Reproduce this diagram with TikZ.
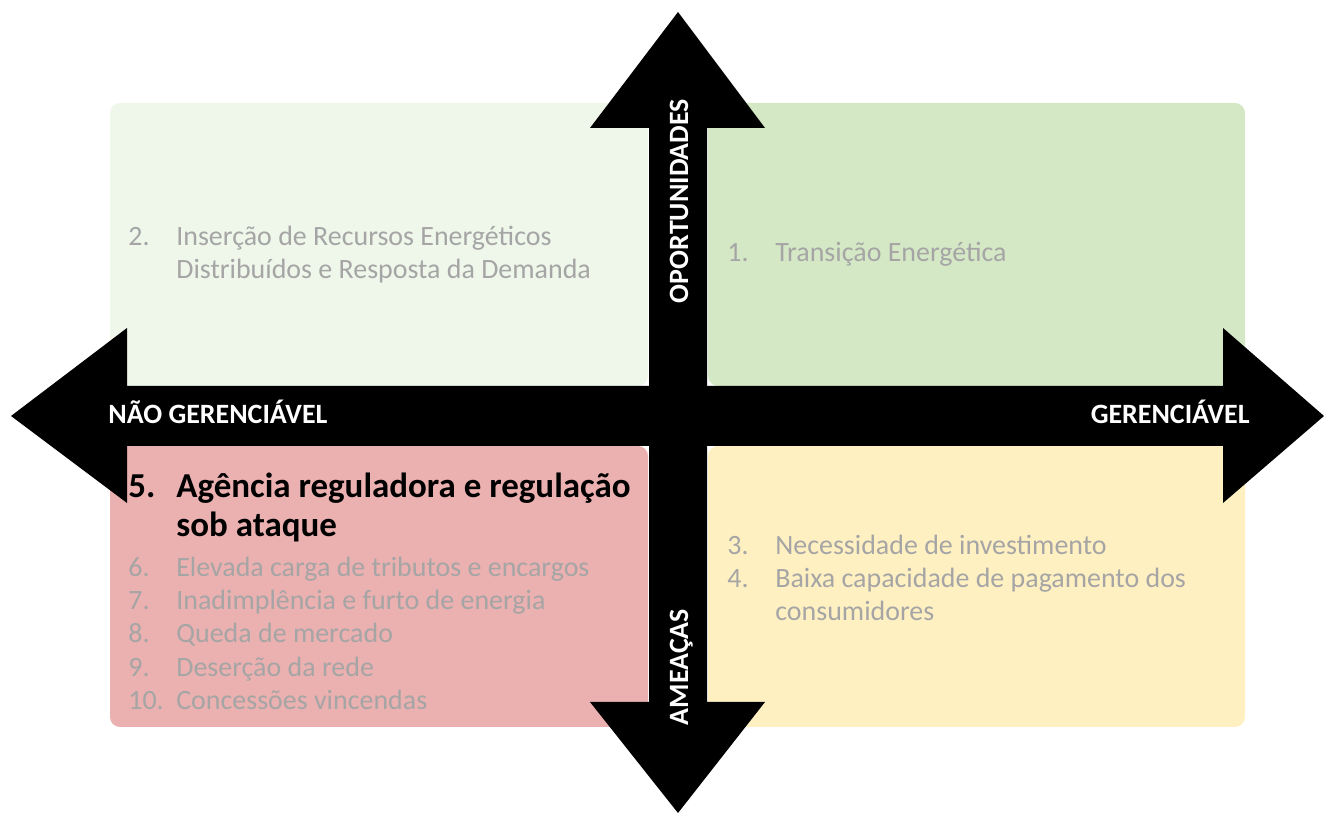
\documentclass[tikz,border=0pt]{standalone}
\usepackage{fontspec}
\setmainfont{Carlito}

\definecolor{quadTL}{HTML}{EFF6EA}
\definecolor{quadTR}{HTML}{D5E8C6}
\definecolor{quadBL}{HTML}{EBB0B0}
\definecolor{quadBR}{HTML}{FFF0C2}
\definecolor{itemgray}{HTML}{A5A5A5}

\tikzset{
	quadbox/.style={shape=rectangle, rounded corners=0.2cm, inner sep=0pt},
	itemtxt/.style={anchor=base west, inner sep=0pt, text=itemgray, font=\fontsize{15.9}{19}\selectfont},
	headtxt/.style={anchor=base west, inner sep=0pt, text=black, font=\fontsize{19.9}{24}\selectfont\bfseries},
	axislbl/.style={inner sep=0pt, text=white, font=\fontsize{15.9}{19}\selectfont\bfseries}
}

\begin{document}
\begin{tikzpicture}
		\useasboundingbox (0, 0) rectangle (26.5, 16.28);
		% Quadrants:
		\node[quadbox, fill=quadTL, minimum width=10.76cm, minimum height=5.66cm] (qtl) at (7.58, 11.39){};
		\node[quadbox, fill=quadTR, minimum width=10.74cm, minimum height=5.66cm] (qtr) at (19.53, 11.39){};
		\node[quadbox, fill=quadBL, minimum width=10.76cm, minimum height=5.62cm] (qbl) at (7.58, 4.55){};
		\node[quadbox, fill=quadBR, minimum width=10.74cm, minimum height=5.62cm] (qbr) at (19.53, 4.55){};
		% Axes:
		\fill (0.22, 7.96) -- (2.54, 9.72) -- (2.54, 8.56) -- (24.46, 8.56) -- (24.46, 9.72) -- (26.48, 7.96) -- (24.46, 6.22) -- (24.46, 7.36) -- (2.54, 7.36) -- (2.54, 6.22) -- cycle;
		\fill (13.56, 16.04) -- (15.30, 13.72) -- (14.14, 13.72) -- (14.14, 2.24) -- (15.30, 2.24) -- (13.56, 0.02) -- (11.80, 2.24) -- (12.98, 2.24) -- (12.98, 13.72) -- (11.80, 13.72) -- cycle;
		\node[axislbl, anchor=base west] (ngr) at (2.16, 7.80){NÃO GERENCIÁVEL};
		\node[axislbl, anchor=base east] (ger) at (25.00, 7.80){GERENCIÁVEL};
		\node[axislbl, anchor=base, rotate=90] (opo) at (13.76, 12.26){OPORTUNIDADES};
		\node[axislbl, anchor=base, rotate=90] (ame) at (13.76, 2.94){AMEAÇAS};
		% Items:
		\node[itemtxt] (n2) at (2.56, 11.36){2.};
		\node[itemtxt] (t2a) at (3.52, 11.36){Inserção de Recursos Energéticos};
		\node[itemtxt] (t2b) at (3.52, 10.70){Distribuídos e Resposta da Demanda};
		\node[itemtxt] (n1) at (14.54, 11.04){1.};
		\node[itemtxt] (t1) at (15.50, 11.04){Transição Energética};
		\node[itemtxt] (n3) at (14.54, 5.18){3.};
		\node[itemtxt] (t3) at (15.50, 5.18){Necessidade de investimento};
		\node[itemtxt] (n4) at (14.54, 4.52){4.};
		\node[itemtxt] (t4a) at (15.50, 4.52){Baixa capacidade de pagamento dos};
		\node[itemtxt] (t4b) at (15.50, 3.86){consumidores};
		\node[headtxt] (n5) at (2.56, 6.32){5.};
		\node[headtxt] (t5a) at (3.52, 6.32){Agência reguladora e regulação};
		\node[headtxt] (t5b) at (3.52, 5.54){sob ataque};
		\node[itemtxt] (n6) at (2.56, 4.74){6.};
		\node[itemtxt] (t6) at (3.52, 4.74){Elevada carga de tributos e encargos};
		\node[itemtxt] (n7) at (2.56, 4.08){7.};
		\node[itemtxt] (t7) at (3.52, 4.08){Inadimplência e furto de energia};
		\node[itemtxt] (n8) at (2.56, 3.42){8.};
		\node[itemtxt] (t8) at (3.52, 3.42){Queda de mercado};
		\node[itemtxt] (n9) at (2.56, 2.74){9.};
		\node[itemtxt] (t9) at (3.52, 2.74){Deserção da rede};
		\node[itemtxt] (n10) at (2.56, 2.08){10.};
		\node[itemtxt] (t10) at (3.52, 2.08){Concessões vincendas};
	\end{tikzpicture}
\end{document}
